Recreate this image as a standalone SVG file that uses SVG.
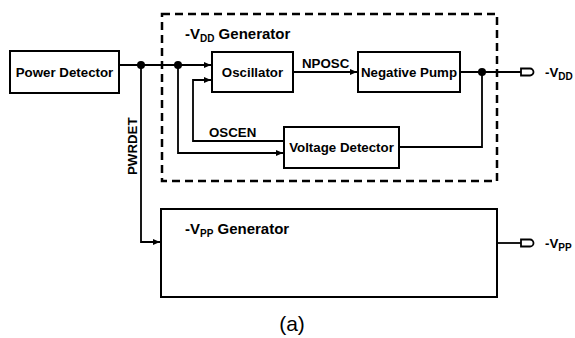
<svg xmlns="http://www.w3.org/2000/svg" width="575" height="338" viewBox="0 0 575 338">
<style>
.b{fill:#fff;stroke:#000;stroke-width:2}
.t{font-family:"Liberation Sans",Arial,sans-serif;font-weight:bold;font-size:13.3px;fill:#000}
.h{font-size:15px}
.w{fill:none;stroke:#000;stroke-width:1.8}
.s{font-size:10px}
</style>
<defs>
<marker id="a" markerWidth="8" markerHeight="8" refX="7" refY="4" orient="auto" markerUnits="userSpaceOnUse">
<path d="M0,1 L7,4 L0,7 z" fill="#000"/>
</marker>
</defs>
<rect width="575" height="338" fill="#fff"/>
<g id="vdd-gen">
<rect x="162" y="14" width="335" height="167" fill="none" stroke="#000" stroke-width="2.5" stroke-dasharray="8,5"/>
<text class="t h" x="185" y="39">-V<tspan class="s" dy="3">DD</tspan><tspan dy="-3"> Generator</tspan></text>
</g>
<g id="power-detector">
<rect class="b" x="10" y="51" width="109" height="42"/>
<text class="t" x="64.5" y="77" text-anchor="middle">Power Detector</text>
</g>
<g id="oscillator">
<rect class="b" x="212" y="52" width="81" height="40"/>
<text class="t" x="252.5" y="77" text-anchor="middle">Oscillator</text>
</g>
<g id="negative-pump">
<rect class="b" x="358" y="52" width="102" height="40"/>
<text class="t" x="409" y="77" text-anchor="middle">Negative Pump</text>
</g>
<g id="voltage-detector">
<rect class="b" x="284" y="127" width="115" height="41"/>
<text class="t" x="341.5" y="152" text-anchor="middle">Voltage Detector</text>
</g>
<g id="vpp-gen">
<rect class="b" x="161" y="209" width="336" height="88"/>
<text class="t h" x="185" y="234">-V<tspan class="s" dy="3">PP</tspan><tspan dy="-3"> Generator</tspan></text>
</g>
<g id="connectors">
<path class="w" d="M119,65 H211" marker-end="url(#a)"/>
<path class="w" d="M141,65 V242 H160" marker-end="url(#a)"/>
<path class="w" d="M178,65 V153 H283" marker-end="url(#a)"/>
<path class="w" d="M284,141 H193 V80 H211" marker-end="url(#a)"/>
<path class="w" d="M293,72 H357" marker-end="url(#a)"/>
<path class="w" d="M460,72 H521"/>
<path class="w" d="M482,72 V147 H399"/>
<path class="w" d="M497,243 H521"/>
<circle cx="141" cy="65" r="4" fill="#000"/>
<circle cx="178" cy="65" r="4" fill="#000"/>
<circle cx="482" cy="72" r="4" fill="#000"/>
<path d="M521,68.5 H530 A3.5,3.5 0 0 1 530,75.5 H521 Z" fill="#fff" stroke="#000" stroke-width="1.8"/>
<path d="M521,239.5 H530 A3.5,3.5 0 0 1 530,246.5 H521 Z" fill="#fff" stroke="#000" stroke-width="1.8"/>
<text class="t" x="302" y="68">NPOSC</text>
<text class="t" x="209" y="137">OSCEN</text>
<text class="t" transform="translate(137,175) rotate(-90)">PWRDET</text>
<text class="t" x="545" y="77">-V<tspan class="s" dy="3">DD</tspan></text>
<text class="t" x="545" y="248">-V<tspan class="s" dy="3">PP</tspan></text>
</g>
<text x="292" y="331" text-anchor="middle" font-family="Liberation Sans,Arial,sans-serif" font-size="21">(a)</text>
</svg>
